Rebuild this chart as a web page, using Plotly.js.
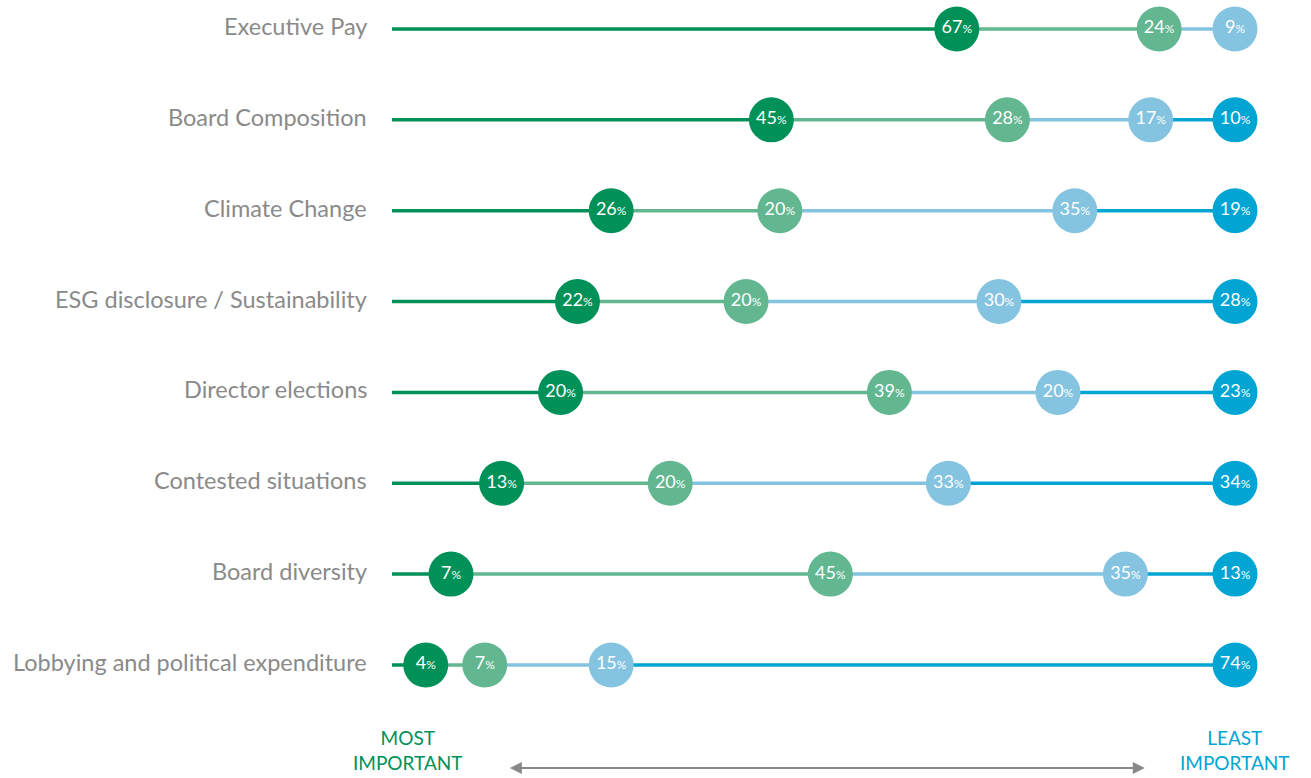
<!DOCTYPE html>
<html>
<head>
<meta charset="utf-8">
<script src="https://cdn.plot.ly/plotly-3.0.1.min.js"></script>
<style>html,body{margin:0;padding:0;background:#fff;}#chart{width:1311px;height:778px;}</style>
</head>
<body>
<div id="chart"></div>
<script>
const categories = [
  "Executive Pay",
  "Board Composition",
  "Climate Change",
  "ESG disclosure / Sustainability",
  "Director elections",
  "Contested situations",
  "Board diversity",
  "Lobbying and political expenditure"
];
const rank1 = [67, 45, 26, 22, 20, 13, 7, 4];
const rank2 = [24, 28, 20, 20, 39, 20, 45, 7];
const rank3 = [9, 17, 35, 30, 20, 33, 35, 15];
const rank4 = [0, 10, 19, 28, 23, 34, 13, 74];
const rankColors = ["#009158", "#62b791", "#85c4e0", "#00a5d3"];
const leftLabel = "MOST<br>IMPORTANT";
const rightLabel = "LEAST<br>IMPORTANT";

const ranks = [rank1, rank2, rank3, rank4];
const lineTraces = [], dotTraces = [];
for (let k = 0; k < 4; k++) {
  const lx = [], ly = [], dx = [], dy = [], dt = [];
  categories.forEach((c, i) => {
    let start = 0;
    for (let j = 0; j < k; j++) start += ranks[j][i];
    start = Math.min(start, 100);
    const v = ranks[k][i];
    if (v > 0) {
      const end = Math.min(start + v, 100);
      lx.push(start, end, null); ly.push(i, i, null);
      dx.push(end); dy.push(i);
      dt.push(v + '<span style="font-size:12px">%</span>');
    }
  });
  lineTraces.push({x: lx, y: ly, mode: 'lines', line: {color: rankColors[k], width: 3.5}, hoverinfo: 'skip', cliponaxis: false});
  dotTraces.push({x: dx, y: dy, mode: 'markers+text', text: dt, textposition: 'middle center',
    textfont: {family: 'Lato, sans-serif', size: 18, color: '#ffffff'},
    marker: {size: 45, color: rankColors[k], line: {width: 0}}, hoverinfo: 'skip', cliponaxis: false});
}

const annotations = categories.map((c, i) => ({
  text: c, xref: 'paper', x: 0, xshift: -23, xanchor: 'right', yref: 'y', y: i, yanchor: 'middle', yshift: 3,
  showarrow: false, font: {family: 'Lato, sans-serif', size: 23.5, color: '#8a8a8a'}
}));
const bottomFont = (col) => ({family: 'Lato, sans-serif', size: 19, color: col});
annotations.push({text: leftLabel, xref: 'x', x: 1.9, yref: 'y', y: 7.94, showarrow: false, align: 'center', font: bottomFont(rankColors[0])});
annotations.push({text: rightLabel, xref: 'x', x: 100, yref: 'y', y: 7.94, showarrow: false, align: 'center', font: bottomFont(rankColors[3])});
annotations.push({text: '', xref: 'x', yref: 'y', x: 89.3, y: 8.134, axref: 'x', ayref: 'y', ax: 13.8, ay: 8.134,
  showarrow: true, arrowhead: 2, startarrowhead: 2, arrowside: 'end+start', arrowsize: 1.2, startarrowsize: 1.2, arrowwidth: 2, arrowcolor: '#888888'});

const layout = {
  width: 1311, height: 778,
  margin: {l: 392, r: 76, t: 0, b: 0},
  paper_bgcolor: '#ffffff', plot_bgcolor: '#ffffff',
  showlegend: false,
  xaxis: {range: [0, 100], visible: false, fixedrange: true},
  yaxis: {range: [8.244, -0.319], visible: false, fixedrange: true},
  annotations: annotations
};
Plotly.newPlot('chart', lineTraces.concat(dotTraces), layout, {displayModeBar: false, staticPlot: true});
</script>
</body>
</html>
